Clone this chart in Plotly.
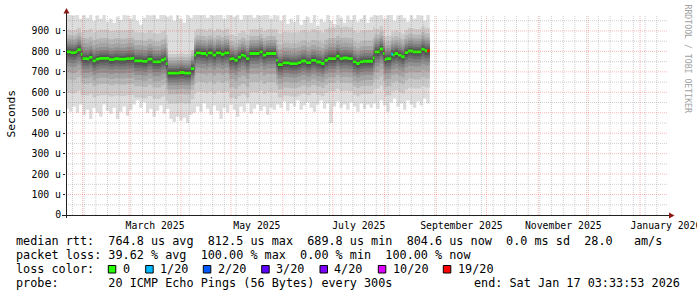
import plotly.graph_objects as go
import pandas as pd

# ---------------- data ----------------
# median RTT step segments: start date, median in microseconds, lost pings of 20
seg_start = [
    "2025-01-22", "2025-01-25", "2025-01-28", "2025-01-29", "2025-01-31",
    "2025-02-01", "2025-02-04", "2025-02-05", "2025-02-07", "2025-02-09",
    "2025-02-11", "2025-02-17", "2025-02-20", "2025-02-23", "2025-02-27",
    "2025-03-03", "2025-03-04", "2025-03-09", "2025-03-12", "2025-03-15",
    "2025-03-20", "2025-03-22", "2025-03-23", "2025-03-24", "2025-03-31",
    "2025-04-03", "2025-04-07", "2025-04-09", "2025-04-10", "2025-04-13",
    "2025-04-16", "2025-04-17", "2025-04-20", "2025-04-22", "2025-04-25",
    "2025-04-27", "2025-04-30", "2025-05-01", "2025-05-03", "2025-05-05",
    "2025-05-07", "2025-05-09", "2025-05-10", "2025-05-12", "2025-05-18",
    "2025-05-20", "2025-05-22", "2025-05-28", "2025-05-29", "2025-06-01",
    "2025-06-05", "2025-06-10", "2025-06-12", "2025-06-15", "2025-06-18",
    "2025-06-21", "2025-06-24", "2025-06-26", "2025-06-28", "2025-07-03",
    "2025-07-05", "2025-07-07", "2025-07-10", "2025-07-13", "2025-07-15",
    "2025-07-17", "2025-07-19", "2025-07-25", "2025-07-26", "2025-07-29",
    "2025-07-31", "2025-08-01", "2025-08-02", "2025-08-05", "2025-08-06",
    "2025-08-07", "2025-08-09", "2025-08-11", "2025-08-13", "2025-08-15",
    "2025-08-18", "2025-08-23", "2025-08-25", "2025-08-26 12:00",
]
seg_median_us = [
    798, 794, 799, 808, 786,
    765, 763, 771, 754, 762,
    766, 760, 764, 762, 765,
    767, 754, 751, 762, 749,
    758, 764, 740, 694, 697,
    694, 716, 782, 793, 790,
    782, 793, 782, 793, 786,
    793, 762, 765, 757, 772,
    782, 777, 765, 790, 798,
    782, 790, 756, 735, 744,
    740, 745, 753, 745, 756,
    748, 741, 757, 765, 777,
    765, 768, 765, 749, 741,
    749, 752, 768, 798, 812,
    790, 760, 765, 787, 782,
    790, 782, 774, 794, 802,
    798, 811, 803, 803,
]
seg_loss = [0] * 73 + [1] + [0] * 9 + [19]
data_end = "2025-08-28"

# smoke spread (distance of the sorted pings from the median, microseconds)
regime_start = ["2025-01-22", "2025-02-01", "2025-03-24", "2025-04-09", "2025-05-28", "2025-07-26"]
spread_above_us = [   # pings 11 .. 19 above the median
    [3, 8, 15, 25, 37, 50, 66, 84, 108],
    [3, 8, 16, 27, 40, 56, 76, 100, 140],
    [3, 8, 16, 25, 37, 48, 61, 77, 93],
    [3, 8, 15, 25, 37, 50, 65, 85, 118],
    [3, 8, 16, 27, 40, 55, 75, 100, 152],
    [3, 8, 15, 25, 37, 50, 65, 85, 112],
]
spread_below_us = [   # pings 10 .. 2 below the median
    [3, 10, 22, 36, 52, 72, 100, 135, 200],
    [3, 10, 22, 35, 50, 70, 95, 125, 180],
    [3, 10, 20, 32, 45, 60, 80, 105, 150],
    [3, 10, 22, 36, 52, 72, 100, 140, 190],
    [3, 10, 22, 35, 50, 68, 92, 120, 160],
    [3, 10, 22, 36, 52, 72, 100, 135, 180],
]

# outer smoke envelope (fastest / slowest ping), two-day bins from 2025-01-22
rtt_max_us = [
    990, 985, 975, 990, 960,
    985, 965, 990, 950, 975, 960, 990, 945, 960, 940, 970, 955, 990,
    975, 960, 985, 950, 930, 965, 990, 975, 990, 960, 985, 990, 970,
    975, 950, 990, 960, 940, 985, 965, 990,
    990, 985, 990, 965, 990, 975, 990, 990, 960, 985, 990, 970,
    990, 955, 990, 985, 990, 965, 990, 975, 990, 985, 960, 990,
    975, 950, 990, 935, 960, 945, 985, 930, 955, 970, 940, 990, 925,
    960, 945, 980, 950, 935, 990, 965, 940, 975, 955, 990, 945, 960,
    985, 940, 970,
    990, 975, 990, 960, 985, 990, 950, 975, 990, 965, 945, 985, 960,
    990, 975, 950, 985,
]
rtt_min_us = [
    520, 505, 530, 500, 540,
    490, 515, 470, 525, 500, 480, 540, 510, 495, 525, 470, 505, 530,
    485, 515, 540, 560, 525, 550, 500, 520, 480, 510, 535, 495, 520,
    470, 455, 480, 462, 475, 450, 490, 500,
    530, 505, 545, 520, 490, 535, 510, 470, 525, 500, 540, 515,
    480, 530, 505, 545, 495, 520, 540, 510, 530, 490, 525, 515,
    540, 525, 555, 510, 545, 530, 560, 515, 535, 550, 525, 505, 540,
    560, 520, 545, 450, 530, 555, 525, 540, 515, 550, 530, 505, 545,
    520, 540, 525,
    545, 520, 560, 535, 505, 550, 570, 530, 545, 515, 560, 540, 525,
    555, 535, 570, 545,
]
bin_start = pd.date_range("2025-01-22", periods=len(rtt_max_us), freq="2D")

y_ticks_us = [0, 100, 200, 300, 400, 500, 600, 700, 800, 900]
y_tick_text = ["0", "100 u", "200 u", "300 u", "400 u", "500 u", "600 u", "700 u", "800 u", "900 u"]
month_labels = ["March 2025", "May 2025", "July 2025", "September 2025", "November 2025", "January 2026"]
month_label_at = ["2025-03-16 12:00", "2025-05-16 12:00", "2025-07-16 12:00",
                  "2025-09-16 00:00", "2025-11-16 00:00", "2026-01-16 12:00"]

loss_levels = [0, 1, 2, 3, 4, 10, 19]
loss_labels = ["0", "1/20", "2/20", "3/20", "4/20", "10/20", "19/20"]
loss_colors = ["#26ff00", "#00b8ff", "#0059ff", "#5e00ff", "#7e00ff", "#dd00ff", "#ff0000"]

legend_rtt = "median rtt:  764.8 us avg  812.5 us max  689.8 us min  804.6 us now  0.0 ms sd  28.0   am/s"
legend_loss = "packet loss: 39.62 % avg  100.00 % max  0.00 % min  100.00 % now"
legend_probe = "probe:       20 ICMP Echo Pings (56 Bytes) every 300s"
legend_end = "end: Sat Jan 17 03:33:53 2026"

x_start = "2025-01-22 03:33:53"
x_end = "2026-01-17 03:33:53"
Y_MAX = 978
MEDIAN_HALF = 7   # half thickness of the median marker, microseconds

# ---------------- layout helpers ----------------
W, H = 697, 297
ML, MR, MT, MB = 66, 30, 15, 82
PW = W - ML - MR
PH = H - MT - MB
MONO = "DejaVu Sans Mono"


def px(x):
    return (x - ML) / PW


def py(y):
    return (MT + PH - y) / PH


fig = go.Figure()

seg_ts = list(pd.to_datetime(seg_start, format="mixed"))
end_ts = pd.Timestamp(data_end)
reg_ts = list(pd.to_datetime(regime_start, format="mixed"))
reg_of_seg = [max(i for i, r in enumerate(reg_ts) if r <= t) for t in seg_ts]
seg_x = seg_ts + [end_ts]
seg_end = seg_ts[1:] + [end_ts]
bin_x = list(bin_start) + [end_ts]


def band(xs, lo, hi, color):
    fig.add_trace(go.Scatter(x=xs, y=lo, mode="lines", line=dict(width=0, shape="hv"),
                             hoverinfo="skip", showlegend=False))
    fig.add_trace(go.Scatter(x=xs, y=hi, mode="lines", line=dict(width=0, shape="hv"),
                             fill="tonexty", fillcolor=color, hoverinfo="skip", showlegend=False))


# ---------------- smoke ----------------
for k in range(1, 11):
    g = int(190 / 10 * (10 - k)) + 50
    col = "rgb(%d,%d,%d)" % (g, g, g)
    if k == 1:
        band(bin_x, rtt_min_us + [rtt_min_us[-1]], rtt_max_us + [rtt_max_us[-1]], col)
    else:
        j = 10 - k
        lo = [m - spread_below_us[r][j] for m, r in zip(seg_median_us, reg_of_seg)]
        hi = [m + spread_above_us[r][j] for m, r in zip(seg_median_us, reg_of_seg)]
        band(seg_x, lo + [lo[-1]], hi + [hi[-1]], col)


# ---------------- median marker coloured by loss ----------------
def loss_color(n):
    c = loss_colors[0]
    for lv, cc in zip(loss_levels, loss_colors):
        if n >= lv:
            c = cc
    return c


med_lo = [m - MEDIAN_HALF for m in seg_median_us]
med_hi = [m + MEDIAN_HALF for m in seg_median_us]
band(seg_x, med_lo + [med_lo[-1]], med_hi + [med_hi[-1]], loss_colors[0])
for i, n in enumerate(seg_loss):
    if n > 0:
        band([seg_ts[i], seg_end[i]], [med_lo[i]] * 2, [med_hi[i]] * 2, loss_color(n))

# ---------------- grid (drawn on top, like rrdtool) ----------------
shapes = []
GRAY = "rgba(110,110,110,0.33)"
RED = "rgba(255,0,0,0.28)"
month_starts = pd.date_range("2025-02-01", "2026-01-01", freq="MS")
for d in pd.date_range("2025-01-26", "2026-01-16", freq="7D"):
    if d in month_starts:
        continue
    shapes.append(dict(type="line", xref="x", yref="paper", x0=d, x1=d, y0=0, y1=1,
                       line=dict(color=GRAY, width=1, dash="1px,1px"), layer="above"))
for d in month_starts:
    shapes.append(dict(type="line", xref="x", yref="paper", x0=d, x1=d, y0=0, y1=1,
                       line=dict(color=RED, width=1, dash="1px,1px"), layer="above"))
for v in range(50, 1000, 50):
    shapes.append(dict(type="line", xref="paper", yref="y", x0=0, x1=1, y0=v, y1=v,
                       line=dict(color=RED if v % 100 == 0 else GRAY, width=1, dash="1px,1px"),
                       layer="above"))

# axes lines and arrows
AX = "#202020"
ARROW = "#8b1a1a"
shapes.append(dict(type="line", xref="paper", yref="paper", x0=px(62), x1=px(670),
                   y0=py(215.5), y1=py(215.5), line=dict(color=AX, width=1), layer="above"))
shapes.append(dict(type="line", xref="paper", yref="paper", x0=px(66.5), x1=px(66.5),
                   y0=py(218), y1=py(12), line=dict(color=AX, width=1), layer="above"))
shapes.append(dict(type="path", xref="paper", yref="paper",
                   path="M %f,%f L %f,%f L %f,%f Z" % (px(63.5), py(13.5), px(69.5), py(13.5), px(66.5), py(8)),
                   fillcolor=ARROW, line=dict(width=0), layer="above"))
shapes.append(dict(type="path", xref="paper", yref="paper",
                   path="M %f,%f L %f,%f L %f,%f Z" % (px(669), py(212.5), px(669), py(218.5), px(674.5), py(215.5)),
                   fillcolor=ARROW, line=dict(width=0), layer="above"))

# legend colour boxes
box_left = [108.3, 145.7, 203.3, 261.7, 320, 378.3, 443.3]
label_left = [123.3, 160, 217.7, 276, 334.3, 392.7, 458.3]
for bl, c in zip(box_left, loss_colors):
    shapes.append(dict(type="rect", xref="paper", yref="paper", x0=px(bl), x1=px(bl + 7.5),
                       y0=py(273), y1=py(265.5), fillcolor=c, line=dict(color="#000", width=1)))

# ---------------- text ----------------
def nb(s):
    return s.replace(" ", "\u00a0")


ann = []
LF = dict(family=MONO, size=11.8, color="#000")


def text_at(x, y, s, xanchor="left", font=LF, angle=0):
    ann.append(dict(xref="paper", yref="paper", x=px(x), y=py(y), text=nb(s), showarrow=False,
                    xanchor=xanchor, yanchor="middle", font=font, borderpad=0, textangle=angle))


text_at(15, 241, legend_rtt)
text_at(15, 255, legend_loss)
text_at(15, 269, "loss color:")
for ll, t in zip(label_left, loss_labels):
    text_at(ll - 1, 269, t)
text_at(15, 282.5, legend_probe)
text_at(681, 282.5, legend_end, xanchor="right")
text_at(10.5, 114, "Seconds", xanchor="center", font=dict(family=MONO, size=11.3, color="#000"), angle=-90)
text_at(687.5, 59, "RRDTOOL / TOBI OETIKER", xanchor="center",
        font=dict(family=MONO, size=8.2, color="#a0a0a0"), angle=90)

fig.update_layout(
    width=W, height=H, margin=dict(l=ML, r=MR, t=MT, b=MB, pad=0, autoexpand=False),
    paper_bgcolor="white", plot_bgcolor="white",
    showlegend=False, shapes=shapes, annotations=ann, template="none",
    xaxis=dict(type="date", range=[x_start, x_end], tickmode="array", tickvals=month_label_at,
               ticktext=month_labels, ticks="", showgrid=False, zeroline=False, showline=False,
               ticklabeloverflow="allow", ticklabelstandoff=3,
               tickfont=dict(family=MONO, size=9.8, color="#000"), automargin=False, fixedrange=True),
    yaxis=dict(range=[0, Y_MAX], tickmode="array", tickvals=y_ticks_us, ticktext=y_tick_text,
               ticks="outside", ticklen=2, tickcolor=AX, tickwidth=1, showgrid=False, zeroline=False,
               showline=False, tickfont=dict(family=MONO, size=9.8, color="#000"), automargin=False,
               fixedrange=True),
)

fig.write_html("out.html")
